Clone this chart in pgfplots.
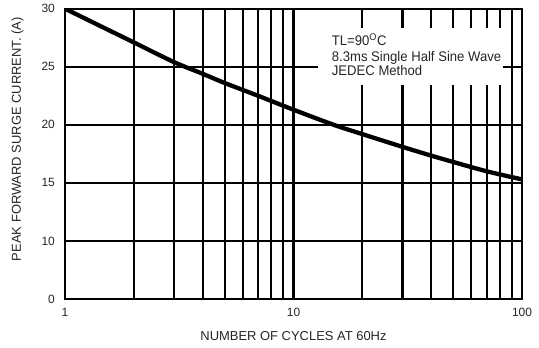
\documentclass[border=0pt]{standalone}
\usepackage{fontspec}
\setmainfont{Liberation Sans}
\usepackage{pgfplots}
\pgfplotsset{compat=1.18}
\begin{document}
\begin{tikzpicture}[x=1bp,y=1bp]
\path[use as bounding box] (0,0) rectangle (539,347);
\begin{axis}[
  at={(65bp,48bp)}, anchor=south west,
  width=457bp, height=290.3bp, scale only axis,
  xmode=log, xmin=1, xmax=100,
  ymin=5, ymax=30,
  xtick={1,10,100}, xticklabels={1,10,100},
  minor xtick={2,3,4,5,6,7,8,9,20,30,40,50,60,70,80,90},
  ytick={5,10,15,20,25,30}, yticklabels={0,10,15,20,25,30},
  grid=both,
  major grid style={black, line width=2.1bp},
  minor grid style={black, line width=2.1bp},
  axis line style={black, line width=2.1bp},
  major tick length=0pt, minor tick length=0pt,
  /pgf/number format/assume math mode=true,
  tick label style={font=\fontsize{12}{14}\selectfont, text=black!85},
  xticklabel style={anchor=north, inner sep=0pt, yshift=-9bp},
  yticklabel style={anchor=east, inner sep=0pt, xshift=-10bp},
  xlabel={NUMBER OF CYCLES AT 60Hz},
  ylabel={PEAK FORWARD SURGE CURRENT. (A)},
  label style={font=\fontsize{13}{15}\selectfont, text=black!85},
  xlabel style={at={(axis description cs:0.5,-0.129)}, anchor=center, inner sep=0pt},
  ylabel style={at={(axis description cs:-0.104,0.551)}, anchor=center, rotate=0, inner sep=0pt},
]
\addplot[black, line width=4.3bp, line cap=round, smooth] coordinates {
(1,30) (1.5,28.3) (2,27.1) (3,25.4) (4,24.4) (5,23.6) (7,22.5) (10,21.3)
(15,20.0) (20,19.2) (30,18.1) (40,17.35) (50,16.8) (70,16.0) (100,15.3)
};
\end{axis}
\fill[white] (318,262) rectangle (503,319);
\begin{scope}[every node/.style={anchor=base west, inner sep=0pt, font=\fontsize{14}{16}\selectfont\addfontfeature{FakeStretch=0.94}, text=black!85}]
\node at (331.7,301.3) {TL=90\textsuperscript{O}C};
\node at (331.7,285.3) {8.3ms Single Half Sine Wave};
\node at (331.7,272) {JEDEC Method};
\end{scope}
\end{tikzpicture}
\end{document}
